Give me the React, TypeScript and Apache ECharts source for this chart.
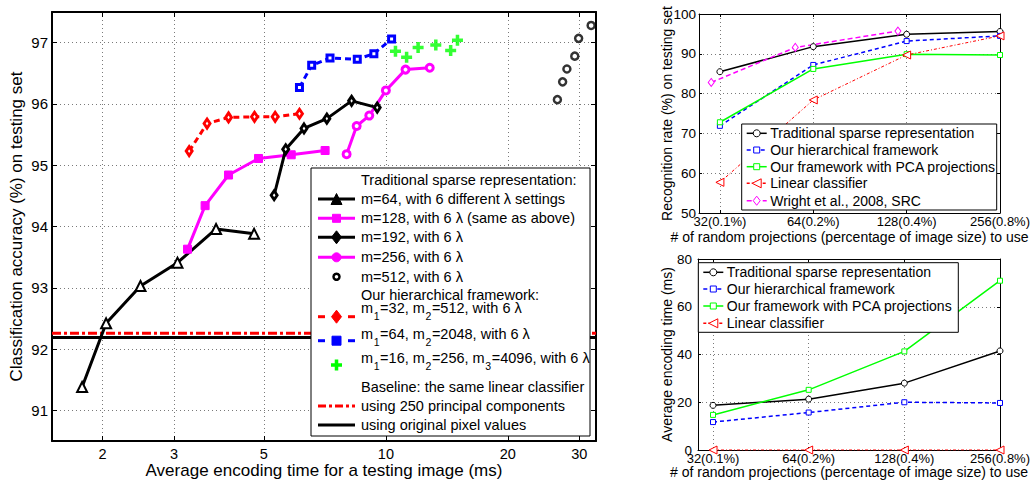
import React, { useEffect, useRef } from "react";
import * as echarts from "echarts";

const FONT = "'Liberation Sans', Arial, Helvetica, sans-serif";

// ---------- Left panel: accuracy vs. average encoding time ----------
const m64Time = [1.78, 2.04, 2.48, 3.06, 3.81, 4.73];
const m64Acc = [91.38, 92.42, 93.03, 93.41, 93.96, 93.88];
const m128Time = [3.24, 3.58, 4.09, 4.85, 5.84, 7.08];
const m128Acc = [93.63, 94.34, 94.84, 95.11, 95.17, 95.24];
const m192Time = [5.3, 5.66, 6.28, 7.15, 8.23, 9.52];
const m192Acc = [94.51, 95.26, 95.6, 95.76, 96.05, 95.94];
const m256Time = [8.0, 8.47, 9.1, 10.0, 11.18, 12.83];
const m256Acc = [95.18, 95.64, 95.81, 96.22, 96.56, 96.59];
const m512Time = [26.5, 27.3, 27.97, 29.25, 29.9, 32.1];
const m512Acc = [96.07, 96.36, 96.57, 96.78, 97.07, 97.28];
const h32Time = [3.27, 3.62, 4.09, 4.74, 5.33, 6.12];
const h32Acc = [95.23, 95.68, 95.78, 95.79, 95.79, 95.84];
const h64Time = [6.12, 6.56, 7.28, 8.5, 9.34, 10.33];
const h64Acc = [96.27, 96.63, 96.75, 96.73, 96.82, 97.06];
const h16Time = [10.56, 11.25, 12.01, 13.28, 14.45, 15.02];
const h16Acc = [96.86, 96.76, 96.92, 96.96, 96.87, 97.04];
const pcaBaseline = 92.26;
const pixelBaseline = 92.19;
const timeRange = [1.5, 33];
const accRange = [90.5, 97.5];
const timeTicks = [2, 3, 5, 10, 20, 30];
const accTicks = [91, 92, 93, 94, 95, 96, 97];

const leftHeaders = [
  "Traditional sparse representation:",
  "Our hierarchical framework:",
  "Baseline: the same linear classifier",
];
const tradLabels = [
  "m=64, with 6 different λ settings",
  "m=128, with 6 λ (same as above)",
  "m=192, with 6 λ",
  "m=256, with 6 λ",
  "m=512, with 6 λ",
];
const hierLabels: [string, boolean][][] = [
  [["m", false], ["1", true], ["=32, m", false], ["2", true], ["=512, with 6 λ", false]],
  [["m", false], ["1", true], ["=64, m", false], ["2", true], ["=2048, with 6 λ", false]],
  [["m", false], ["1", true], ["=16, m", false], ["2", true], ["=256, m", false], ["3", true], ["=4096, with 6 λ", false]],
];
const baselineLabels = ["using 250 principal components", "using original pixel values"];

// ---------- Right panels ----------
const projSizes = [32, 64, 128, 256];
const projLabels = ["32(0.1%)", "64(0.2%)", "128(0.4%)", "256(0.8%)"];
const rateTrad = [85.5, 91.8, 94.9, 95.6];
const rateHier = [71.9, 87.2, 93.2, 94.5];
const ratePca = [72.8, 86.2, 89.9, 89.7];
const rateLinear = [57.7, 78.4, 89.7, 94.5];
const wrightSizes = [30, 56, 120];
const rateWright = [82.8, 91.6, 95.7];
const rateTicks = [50, 60, 70, 80, 90, 100];
const encTrad = [18.7, 21.3, 28.0, 41.5];
const encHier = [11.7, 15.7, 20.0, 19.7];
const encPca = [14.7, 25.2, 41.3, 70.9];
const encLinear = [0, 0, 0, 0];
const encTicks = [0, 20, 40, 60, 80];
const rateNames = [
  "Traditional sparse representation",
  "Our hierarchical framework",
  "Our framework with PCA projections",
  "Linear classifier",
  "Wright et al., 2008, SRC",
];

const BLACK = "#000000";
const MAGENTA = "#ff00ff";
const RED = "#ff0000";
const BLUE = "#0000ff";
const GREEN = "#00ff00";
const PLUS = "path://M3.4,0H6.6V3.4H10V6.6H6.6V10H3.4V6.6H0V3.4H3.4Z";

function pairs(xs: number[], ys: number[]) {
  return xs.map((x, i) => [x, ys[i]]);
}

let ctx: CanvasRenderingContext2D | null = null;
function measure(text: string, size: number) {
  if (!ctx) ctx = document.createElement("canvas").getContext("2d");
  ctx!.font = `${size}px ${FONT}`;
  return ctx!.measureText(text).width;
}

function mk(kind: string, cx: number, cy: number, s: number, stroke: string, fill: string, lw: number): any {
  const style = { fill, stroke, lineWidth: lw };
  const z = 102;
  if (kind === "circle") return { type: "circle", z, shape: { cx, cy, r: s / 2 }, style };
  if (kind === "rect") return { type: "rect", z, shape: { x: cx - s / 2, y: cy - s / 2, width: s, height: s }, style };
  if (kind === "triangle")
    return { type: "polygon", z, shape: { points: [[cx, cy - s / 2], [cx + s / 2, cy + s / 2], [cx - s / 2, cy + s / 2]] }, style };
  if (kind === "ltriangle")
    return { type: "polygon", z, shape: { points: [[cx - s / 2, cy], [cx + s / 2, cy - s / 2], [cx + s / 2, cy + s / 2]] }, style };
  if (kind === "diamond")
    return {
      type: "polygon", z,
      shape: { points: [[cx, cy - s * 0.65], [cx + s / 2, cy], [cx, cy + s * 0.65], [cx - s / 2, cy]] },
      style,
    };
  if (kind === "plus") {
    const a = s / 2, b = s * 0.16;
    return {
      type: "polygon", z,
      shape: {
        points: [
          [cx - b, cy - a], [cx + b, cy - a], [cx + b, cy - b], [cx + a, cy - b], [cx + a, cy + b], [cx + b, cy + b],
          [cx + b, cy + a], [cx - b, cy + a], [cx - b, cy + b], [cx - a, cy + b], [cx - a, cy - b], [cx - b, cy - b],
        ],
      },
      style: { fill: stroke, stroke: "none", lineWidth: 0 },
    };
  }
  return null;
}

function seg(x1: number, x2: number, y: number, color: string, lw: number, dash?: number[]) {
  return { type: "line", z: 101, shape: { x1, y1: y, x2, y2: y }, style: { stroke: color, lineWidth: lw, lineDash: dash || null } };
}

function txt(x: number, y: number, text: string, size: number) {
  return {
    type: "text", z: 103, x, y,
    style: { text, fill: "#000", fontSize: size, fontFamily: FONT, align: "left", verticalAlign: "middle" },
  };
}

function subText(x: number, y: number, ySub: number, parts: [string, boolean][], size: number, subSize: number) {
  const out: any[] = [];
  let cx = x;
  parts.forEach(([t, sub]) => {
    const s = sub ? subSize : size;
    out.push(txt(cx, sub ? ySub : y, t, s));
    cx += measure(t, s) + 0.6;
  });
  return out;
}

function leftLegend() {
  const els: any[] = [];
  els.push({ type: "rect", z: 100, shape: { x: 311, y: 168, width: 279, height: 268 }, style: { fill: "#fff", stroke: "#000", lineWidth: 1 } });
  const x1 = 318, x2 = 355, mx = 336.5, tx = 361, fs = 14.5;
  els.push(txt(tx, 180, leftHeaders[0], fs));
  els.push(txt(tx, 295, leftHeaders[1], fs));
  els.push(txt(tx, 386.7, leftHeaders[2], fs));
  const tradRows = [
    { y: 199, c: BLACK, k: "triangle", s: 11 },
    { y: 218.3, c: MAGENTA, k: "rect", s: 8 },
    { y: 237.3, c: BLACK, k: "diamond", s: 10 },
    { y: 257.3, c: MAGENTA, k: "circle", s: 9 },
  ];
  tradRows.forEach((r, i) => {
    els.push(seg(x1, x2, r.y, r.c, 3));
    els.push(mk(r.k, mx, r.y, r.s, r.c, r.c, 1));
    els.push(txt(tx, r.y, tradLabels[i], fs));
  });
  els.push(mk("circle", mx, 276.7, 6, BLACK, "#fff", 2.5));
  els.push(txt(tx, 276.7, tradLabels[4], fs));

  const hierRows = [
    { ty: 308.3, my: 316.7, c: RED, k: "diamond", s: 10 },
    { ty: 334, my: 340.7, c: BLUE, k: "rect", s: 9 },
    { ty: 358.3, my: 365, c: GREEN, k: "plus", s: 11 },
  ];
  hierRows.forEach((r, i) => {
    if (r.k !== "plus") {
      els.push(seg(x1, x1 + 7, r.my, r.c, 3));
      els.push(seg(x2 - 7, x2, r.my, r.c, 3));
    }
    els.push(mk(r.k, mx, r.my, r.s, r.c, r.c, 1));
    els.push(...subText(tx, r.ty, r.ty + 7.5, hierLabels[i], fs, 10.5));
  });
  els.push(seg(x1, x2, 406, RED, 3, [8, 3, 3, 3]));
  els.push(txt(tx, 406, baselineLabels[0], fs));
  els.push(seg(x1, x2, 425, BLACK, 3));
  els.push(txt(tx, 425, baselineLabels[1], fs));
  return els;
}

const rightStyles = [
  { c: BLACK, k: "circle", s: 7, dash: null as number[] | null },
  { c: BLUE, k: "rect", s: 6, dash: [4, 3] },
  { c: GREEN, k: "rect", s: 6, dash: null },
  { c: RED, k: "ltriangle", s: 9, dash: [3, 2, 1, 2] },
  { c: MAGENTA, k: "diamond", s: 7, dash: [5, 3] },
];

function rightLegend(box: number[], rows: number[], x1: number, count: number) {
  const els: any[] = [];
  els.push({ type: "rect", z: 100, shape: { x: box[0], y: box[1], width: box[2], height: box[3] }, style: { fill: "#fff", stroke: "#000", lineWidth: 1 } });
  for (let i = 0; i < count; i++) {
    const st = rightStyles[i];
    const y = rows[i];
    els.push(seg(x1, x1 + 20, y, st.c, 1.5, st.dash || undefined));
    els.push(mk(st.k, x1 + 10, y, st.s, st.c, "#fff", 1));
    els.push(txt(x1 + 23.5, y, rateNames[i], 14));
  }
  return els;
}

const gridDots = { show: true, lineStyle: { color: "#7a7a7a", width: 1, type: [1, 3] } };

function frame(lw: number, len: number, ticks: number[]) {
  return {
    axisLine: { show: true, onZero: false, lineStyle: { color: "#000", width: lw } },
    axisTick: { show: true, inside: true, length: len, customValues: ticks, lineStyle: { color: "#000", width: 1 } },
  };
}

function projFmt(v: number) {
  const i = projSizes.findIndex((p) => Math.abs(p - v) < 0.5);
  return i >= 0 ? projLabels[i] : "";
}

function lineS(ai: number, data: number[][], color: string, width: number, dash: any, symbol: string, size: any, bw: number, extra: any = {}, fill = "#fff") {
  return {
    type: "line", xAxisIndex: ai, yAxisIndex: ai, data, symbol, symbolSize: size, showAllSymbol: true,
    lineStyle: { color, width, type: dash },
    itemStyle: { color: fill, borderColor: color, borderWidth: bw },
    emphasis: { disabled: true }, silent: true, z: 3, animation: false, ...extra,
  };
}

function buildOption(): any {
  const labelFont = { color: "#000", fontFamily: FONT };
  const xAxis = [
    {
      gridIndex: 0, type: "log", logBase: 10, min: timeRange[0], max: timeRange[1], position: "bottom",
      ...frame(2, 5, timeTicks),
      axisLabel: { show: true, customValues: timeTicks, margin: 5, fontSize: 14.5, ...labelFont, formatter: (v: number) => String(Math.round(v)) },
      splitLine: gridDots, minorTick: { show: false }, minorSplitLine: { show: false },
      name: "Average encoding time for a testing image (ms)", nameLocation: "middle", nameGap: 21, nameMoveOverlap: false,
      nameTextStyle: { fontSize: 17, ...labelFont },
    },
    {
      gridIndex: 0, type: "log", logBase: 10, min: timeRange[0], max: timeRange[1], position: "top",
      ...frame(2, 5, timeTicks), axisLabel: { show: false }, splitLine: { show: false },
    },
    {
      gridIndex: 1, type: "log", logBase: 2, min: 27.4, max: 256, position: "bottom",
      ...frame(1, 3, projSizes),
      axisLabel: { show: true, customValues: projSizes, margin: 2, fontSize: 13, ...labelFont, formatter: projFmt },
      splitLine: gridDots,
      name: "# of random projections (percentage of image size) to use", nameLocation: "middle", nameGap: 17, nameMoveOverlap: false,
      nameTextStyle: { fontSize: 14, ...labelFont },
    },
    {
      gridIndex: 1, type: "log", logBase: 2, min: 27.4, max: 256, position: "top",
      ...frame(1, 3, projSizes), axisLabel: { show: false }, splitLine: { show: false },
    },
    {
      gridIndex: 2, type: "log", logBase: 2, min: 28.7, max: 256, position: "bottom",
      ...frame(1, 3, projSizes),
      axisLabel: { show: true, customValues: projSizes, margin: 2, fontSize: 13, ...labelFont, formatter: projFmt },
      splitLine: gridDots,
      name: "# of random projections (percentage of image size) to use", nameLocation: "middle", nameGap: 15, nameMoveOverlap: false,
      nameTextStyle: { fontSize: 14, ...labelFont },
    },
    {
      gridIndex: 2, type: "log", logBase: 2, min: 28.7, max: 256, position: "top",
      ...frame(1, 3, projSizes), axisLabel: { show: false }, splitLine: { show: false },
    },
  ];
  const yAxis = [
    {
      gridIndex: 0, type: "value", min: accRange[0], max: accRange[1], position: "left",
      ...frame(2, 5, accTicks),
      axisLabel: { show: true, customValues: accTicks, margin: 4, fontSize: 15, ...labelFont },
      splitLine: gridDots,
      name: "Classification accuracy (%) on testing set", nameLocation: "middle", nameGap: 27, nameMoveOverlap: false,
      nameTextStyle: { fontSize: 17, ...labelFont },
    },
    {
      gridIndex: 0, type: "value", min: accRange[0], max: accRange[1], position: "right",
      ...frame(2, 5, accTicks), axisLabel: { show: false }, splitLine: { show: false },
    },
    {
      gridIndex: 1, type: "value", min: 50, max: 100, position: "left",
      ...frame(1, 3, rateTicks),
      axisLabel: { show: true, customValues: rateTicks, margin: 3, fontSize: 13.5, ...labelFont },
      splitLine: gridDots,
      name: "Recognition rate (%) on testing set", nameLocation: "middle", nameGap: 25, nameMoveOverlap: false,
      nameTextStyle: { fontSize: 14, ...labelFont },
    },
    {
      gridIndex: 1, type: "value", min: 50, max: 100, position: "right",
      ...frame(1, 3, rateTicks), axisLabel: { show: false }, splitLine: { show: false },
    },
    {
      gridIndex: 2, type: "value", min: 0, max: 80, position: "left",
      ...frame(1, 3, encTicks),
      axisLabel: { show: true, customValues: encTicks, margin: 6, fontSize: 13.5, ...labelFont },
      splitLine: gridDots,
      name: "Average encoding time (ms)", nameLocation: "middle", nameGap: 24, nameMoveOverlap: false,
      nameTextStyle: { fontSize: 14, ...labelFont },
    },
    {
      gridIndex: 2, type: "value", min: 0, max: 80, position: "right",
      ...frame(1, 3, encTicks), axisLabel: { show: false }, splitLine: { show: false },
    },
  ];

  const series: any[] = [
    lineS(0, pairs(timeRange, [pcaBaseline, pcaBaseline]), RED, 3, [9, 3, 3, 3], "none", 0, 0, { z: 2 }),
    lineS(0, pairs(timeRange, [pixelBaseline, pixelBaseline]), BLACK, 3, "solid", "none", 0, 0, { z: 2 }),
    lineS(0, pairs(m64Time, m64Acc), BLACK, 3, "solid", "triangle", 10, 2),
    lineS(0, pairs(m128Time, m128Acc), MAGENTA, 3, "solid", "rect", 8, 1, {}, MAGENTA),
    lineS(0, pairs(m192Time, m192Acc), BLACK, 3, "solid", "diamond", [6, 9], 3),
    lineS(0, pairs(m256Time, m256Acc), MAGENTA, 3, "solid", "circle", 7, 3),
    {
      type: "scatter", xAxisIndex: 0, yAxisIndex: 0, data: pairs(m512Time, m512Acc), symbol: "circle", symbolSize: 7,
      itemStyle: { color: "#fff", borderColor: BLACK, borderWidth: 2.5 }, silent: true, z: 3,
    },
    lineS(0, pairs(h32Time, h32Acc), RED, 3, [6, 4], "diamond", [6, 9], 3),
    lineS(0, pairs(h64Time, h64Acc), BLUE, 3, [6, 4], "rect", 6, 3),
    {
      type: "scatter", xAxisIndex: 0, yAxisIndex: 0, data: pairs(h16Time, h16Acc), symbol: PLUS, symbolSize: 11,
      itemStyle: { color: GREEN }, silent: true, z: 3,
    },
    // top right
    lineS(1, pairs(projSizes, rateTrad), BLACK, 1.5, "solid", "circle", 6, 1),
    lineS(1, pairs(projSizes, rateHier), BLUE, 1.5, [4, 3], "rect", 5, 1),
    lineS(1, pairs(projSizes, ratePca), GREEN, 1.5, "solid", "rect", 5, 1),
    lineS(1, pairs(projSizes, rateLinear), RED, 1, [3, 2, 1, 2], "triangle", 8, 1, { symbolRotate: 90 }),
    lineS(1, pairs(wrightSizes, rateWright), MAGENTA, 1.5, [5, 3], "diamond", [6, 8], 1),
    // bottom right
    lineS(2, pairs(projSizes, encTrad), BLACK, 1.5, "solid", "circle", 6, 1),
    lineS(2, pairs(projSizes, encHier), BLUE, 1.5, [4, 3], "rect", 5, 1),
    lineS(2, pairs(projSizes, encPca), GREEN, 1.5, "solid", "rect", 5, 1),
    lineS(2, pairs(projSizes, encLinear), RED, 1, [3, 2, 1, 2], "triangle", 8, 1, { symbolRotate: 90 }),
  ];
  // each panel draws on its bottom x axis and left y axis
  series.forEach((s) => {
    s.xAxisIndex = s.xAxisIndex * 2;
    s.yAxisIndex = s.yAxisIndex * 2;
  });

  const graphic = [
    ...leftLegend(),
    ...rightLegend([741.7, 124, 255, 86], [133.3, 150, 166.7, 183.3, 200.7], 746.7, 5),
    ...rightLegend([698.3, 262.7, 260, 69.6], [272.3, 289, 306, 323.3], 703.3, 4),
  ];

  return {
    animation: false,
    backgroundColor: "#ffffff",
    textStyle: { fontFamily: FONT },
    grid: [
      { left: 52, top: 12, width: 544, height: 429, outerBoundsMode: "none", containLabel: false },
      { left: 699, top: 14, width: 301, height: 199, outerBoundsMode: "none", containLabel: false },
      { left: 698, top: 259, width: 302, height: 191, outerBoundsMode: "none", containLabel: false },
    ],
    xAxis,
    yAxis,
    series,
    graphic: { elements: graphic },
  };
}

export default function App() {
  const ref = useRef<HTMLDivElement>(null);
  useEffect(() => {
    document.body.style.margin = "0";
    const chart = echarts.init(ref.current!, null, { renderer: "svg" });
    chart.setOption(buildOption());
    return () => chart.dispose();
  }, []);
  return <div ref={ref} style={{ width: 1032, height: 480, background: "#fff" }} />;
}
